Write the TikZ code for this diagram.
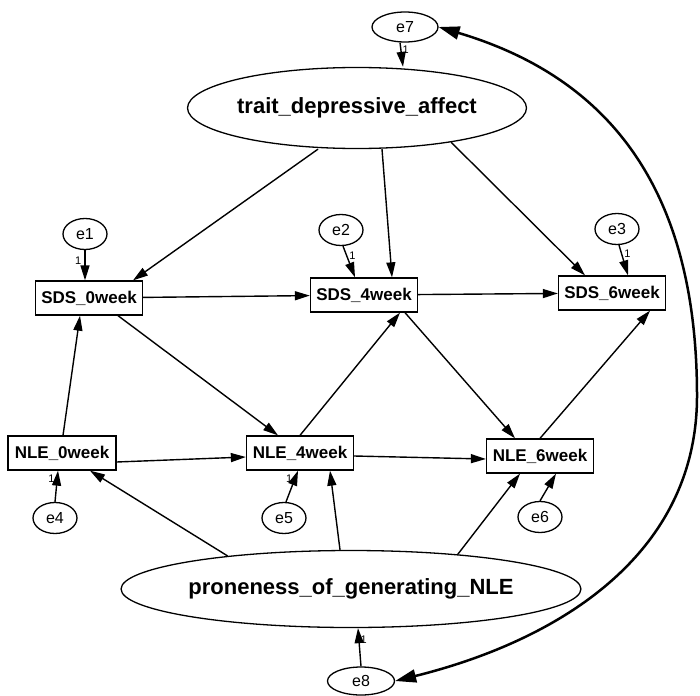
\documentclass[tikz,border=0pt]{standalone}
\usepackage{fontspec}
\setmainfont{Liberation Sans}
\usetikzlibrary{arrows.meta, calc, shapes.geometric}

\begin{document}
\begin{tikzpicture}[
    x=1pt, y=-1pt,
    obsvar/.style={draw, rectangle, line width=1.3pt, minimum width=107pt, minimum height=34pt, inner sep=0pt, font=\fontsize{17}{20}\selectfont\bfseries},
    latvar/.style={draw, ellipse, line width=1.3pt, inner sep=0pt, font=\fontsize{22}{26}\selectfont\bfseries},
    errvar/.style={draw, ellipse, line width=1.3pt, minimum width=44pt, minimum height=31pt, inner sep=0pt, font=\fontsize{16}{19}\selectfont},
    arrow/.style={-{Triangle[length=15pt, width=9pt]}, line width=1.4pt},
    covarrow/.style={{Triangle[length=21pt, width=13pt]}-{Triangle[length=21pt, width=13pt]}, line width=2.5pt},
    fixlab/.style={font=\fontsize{11}{12}\selectfont, inner sep=0pt}
]
\useasboundingbox (0,0) rectangle (700,695);

% Latent variables
\node[latvar, minimum width=275pt, minimum height=81pt] (trait) at (357,108) {trait\_depressive\_affect};
\node[latvar, minimum width=388pt, minimum height=77pt] (prone) at (351,589) {proneness\_of\_generating\_NLE};

% Observed variables
\node[obsvar] (sds0) at (89,298) {SDS\_0week};
\node[obsvar] (sds4) at (364,295) {SDS\_4week};
\node[obsvar] (sds6) at (612,293) {SDS\_6week};
\node[obsvar, minimum width=108pt] (nle0) at (62,453) {NLE\_0week};
\node[obsvar] (nle4) at (300,453) {NLE\_4week};
\node[obsvar] (nle6) at (540,456) {NLE\_6week};

% Errors
\node[errvar] (e1) at (85,234) {e1};
\node[errvar] (e2) at (341,230) {e2};
\node[errvar] (e3) at (617,229) {e3};
\node[errvar] (e4) at (55,518) {e4};
\node[errvar] (e5) at (284,518) {e5};
\node[errvar] (e6) at (540,517) {e6};
\node[errvar, minimum width=66pt, minimum height=30pt] (e7) at (405,27) {e7};
\node[errvar, minimum width=67pt, minimum height=28pt] (e8) at (361,681) {e8};

% Paths from trait
\draw[arrow] ([xshift=-39pt]trait.south) -- ([xshift=44pt]sds0.north);
\draw[arrow] ([xshift=25pt]trait.south) -- ([xshift=28pt]sds4.north);
\draw[arrow] (trait.-20) -- ([xshift=-27pt]sds6.north);

% Paths from proneness
\draw[arrow] (prone.165) -- ([xshift=28pt]nle0.south);
\draw[arrow] ([xshift=-11pt]prone.north) -- ([xshift=30pt]nle4.south);
\draw[arrow] (prone.18) -- ([xshift=-20pt]nle6.south);

% SDS chain
\draw[arrow] (sds0) -- (sds4);
\draw[arrow] (sds4) -- (sds6);
\draw[arrow] ([xshift=29pt]sds0.south) -- ([xshift=-22pt]nle4.north);
\draw[arrow] ([xshift=41pt]sds4.south) -- ([xshift=-25pt]nle6.north);

% NLE chain
\draw[arrow] ([xshift=1pt]nle0.north) -- ([xshift=-9pt]sds0.south);
\draw[arrow] (nle4.north) -- ([xshift=36pt]sds4.south);
\draw[arrow] (nle6.north) -- ([xshift=38pt]sds6.south);
\draw[arrow] ([yshift=-9pt]nle0.east) -- ([yshift=-4pt]nle4.west);
\draw[arrow] ([yshift=-3pt]nle4.east) -- ([yshift=-3pt]nle6.west);

% Error paths
\draw[arrow] (e1.south) -- node[fixlab, left=3pt, pos=0.35] {1} (e1.south |- sds0.north);
\draw[arrow] ([xshift=2pt]e2.south) -- node[fixlab, right=2pt, pos=0.3] {1} ([xshift=-9pt]sds4.north);
\draw[arrow] ([xshift=2pt]e3.south) -- node[fixlab, right=2pt, pos=0.3] {1} ([xshift=16pt]sds6.north);
\draw[arrow] (e4.north) -- node[fixlab, left=2pt, pos=0.75] {1} ([xshift=-4pt]nle0.south);
\draw[arrow] ([xshift=2pt]e5.north) -- node[fixlab, left=2pt, pos=0.75] {1} ([xshift=-2pt]nle4.south);
\draw[arrow] (e6.north) -- ([xshift=16pt]nle6.south);
\draw[arrow] ([xshift=-5pt]e7.south) -- node[fixlab, right=1pt, pos=0.3] {1} ([xshift=46pt]trait.north);
\draw[arrow] (e8.north) -- node[fixlab, right=1pt, pos=0.7] {1} ([xshift=7pt]prone.south);

% Covariance
\draw[covarrow] (e7.east) .. controls (610,78) and (697,190) .. (697,396)
    .. controls (697,554) and (560,640) .. (e8.east);
\end{tikzpicture}
\end{document}
